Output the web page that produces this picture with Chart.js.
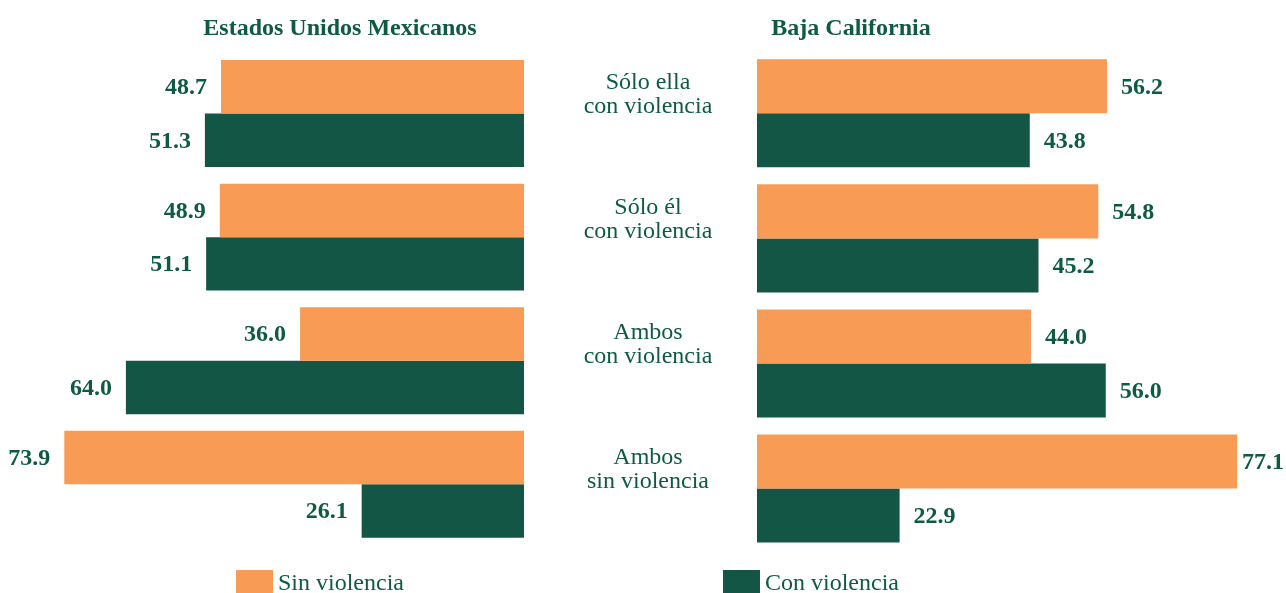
<!DOCTYPE html>
<html>
<head>
<meta charset="utf-8">
<script src="https://cdn.jsdelivr.net/npm/chart.js@4"></script>
<style>
  body { margin: 0; background: #fff; }
  #wrap { position: relative; width: 1286px; height: 593px; overflow: hidden; }
  canvas { position: absolute; top: 0; }
  .leg { position: absolute; top: 570px; font: 24px "Liberation Serif", serif; color: #0e5a45; line-height: 24px; }
  .leg span { position: absolute; top: 0; width: 37px; height: 23px; }
</style>
</head>
<body>
<div id="wrap">
  <canvas id="left" width="680" height="593" style="left:0"></canvas>
  <canvas id="right" width="870" height="593" style="left:416px"></canvas>
  <div id="legend"></div>
</div>
<script>
// data
const categories = [
  ["Sólo ella", "con violencia"],
  ["Sólo él", "con violencia"],
  ["Ambos", "con violencia"],
  ["Ambos", "sin violencia"],
];
const seriesNames = ["Sin violencia", "Con violencia"];
const titles = ["Estados Unidos Mexicanos", "Baja California"];
const nacionalSin = [48.7, 48.9, 36.0, 73.9];
const nacionalCon = [51.3, 51.1, 64.0, 26.1];
const bajaSin = [56.2, 54.8, 44.0, 77.1];
const bajaCon = [43.8, 45.2, 56.0, 22.9];

const colors = ["#f79b55", "#145646"];
const textColor = "#0e5a45";
const serif = "'Liberation Serif', 'Times New Roman', serif";

// value labels next to each bar end
const valueLabels = {
  id: "valueLabels",
  afterDatasetsDraw(chart) {
    const ctx = chart.ctx;
    const rev = chart.options.scales.x.reverse;
    ctx.save();
    ctx.font = "bold 24px " + serif;
    ctx.fillStyle = textColor;
    ctx.textBaseline = "middle";
    ctx.textAlign = "left";
    chart.data.datasets.forEach((ds, di) => {
      chart.getDatasetMeta(di).data.forEach((bar, i) => {
        const txt = ds.data[i].toFixed(1);
        const w = ctx.measureText(txt).width;
        let x;
        if (rev) {
          x = bar.x - 14 - w;
        } else {
          x = Math.min(bar.x + 14, chart.width - 2 - w);
        }
        ctx.fillText(txt, x, bar.y + 1);
      });
    });
    ctx.restore();
  },
};

// category names in the middle column
const categoryLabels = {
  id: "categoryLabels",
  afterDraw(chart) {
    const ctx = chart.ctx;
    const y = chart.scales.y;
    const x0 = chart.scales.x.getPixelForValue(0);
    ctx.save();
    ctx.font = "24px " + serif;
    ctx.fillStyle = textColor;
    ctx.textAlign = "center";
    ctx.textBaseline = "middle";
    categories.forEach((lines, i) => {
      const cy = y.getPixelForValue(i) - 19;
      lines.forEach((l, k) => {
        ctx.fillText(l, x0 - 109, cy + (k - (lines.length - 1) / 2) * 24);
      });
    });
    ctx.restore();
  },
};

function makeConfig(sin, con, title, reverse, min, max, bottom, titlePad, catPct) {
  return {
    type: "bar",
    data: {
      labels: categories,
      datasets: [
        { label: seriesNames[0], data: sin, backgroundColor: colors[0], borderWidth: 0 },
        { label: seriesNames[1], data: con, backgroundColor: colors[1], borderWidth: 0 },
      ],
    },
    options: {
      responsive: false,
      animation: false,
      indexAxis: "y",
      layout: { padding: { left: 0, right: 0, top: 0, bottom: bottom } },
      datasets: { bar: { barPercentage: 1, categoryPercentage: catPct } },
      plugins: {
        legend: { display: false },
        tooltip: { enabled: false },
        title: {
          display: true,
          text: title,
          color: textColor,
          font: { family: serif, size: 24, weight: "bold", lineHeight: 1.2 },
          padding: titlePad,
        },
      },
      scales: {
        x: { display: false, min: min, max: max, reverse: reverse, grid: { display: false } },
        y: { display: false, grid: { display: false } },
      },
    },
  };
}

const leftChart = new Chart(
  document.getElementById("left"),
  Object.assign(makeConfig(nacionalSin, nacionalCon, titles[0], true, -25.08, 84.24,
    47, { top: 14, bottom: 9 }, 0.866),
    { plugins: [valueLabels] })
);

const rightChart = new Chart(
  document.getElementById("right"),
  Object.assign(makeConfig(bajaSin, bajaCon, titles[1], false, -54.75, 84.94,
    42, { top: 14, bottom: 8 }, 0.864),
    { plugins: [valueLabels, categoryLabels] })
);

// legend
const legendPos = [236, 723];
const legend = document.getElementById("legend");
seriesNames.forEach((name, i) => {
  const d = document.createElement("div");
  d.className = "leg";
  d.style.left = legendPos[i] + "px";
  d.innerHTML = '<span style="left:0;background:' + colors[i] + '"></span>' +
    '<div style="position:absolute;left:42px;top:0;white-space:nowrap">' + name + "</div>";
  legend.appendChild(d);
});
</script>
</body>
</html>
